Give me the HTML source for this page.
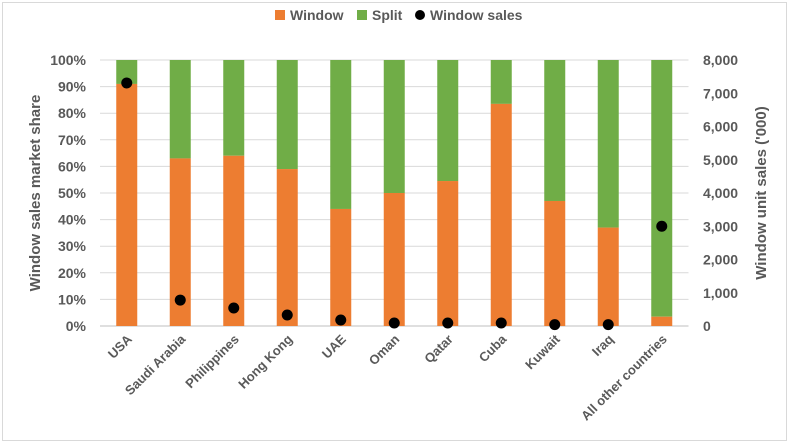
<!DOCTYPE html>
<html><head><meta charset="utf-8"><style>
body{margin:0;background:#fff;font-family:"Liberation Sans",sans-serif}
svg text{font-family:"Liberation Sans",sans-serif;fill:#595959}
</style></head><body>
<svg width="789" height="443">
<rect x="2.5" y="2.5" width="784" height="438" fill="#fff" stroke="#d9d9d9"/>
<g id="grid"></g><g id="bars"></g><g id="dots"></g><g id="axes"></g>
<g>
<rect x="275" y="10" width="10" height="10" fill="#ed7d31"/>
<text x="290" y="20" font-size="14" font-weight="bold">Window</text>
<rect x="357" y="10" width="10" height="10" fill="#70ad47"/>
<text x="372" y="20" font-size="14" font-weight="bold">Split</text>
<circle cx="420" cy="15" r="5" fill="#000"/>
<text x="430" y="20" font-size="14" font-weight="bold">Window sales</text>
</g>
<text transform="translate(40,193) rotate(-90)" text-anchor="middle" font-size="15" font-weight="bold">Window sales market share</text>
<text transform="translate(766,193) rotate(-90)" text-anchor="middle" font-size="15" font-weight="bold">Window unit sales ('000)</text>
</svg>
<script>
const categories=["USA","Saudi Arabia","Philippines","Hong Kong","UAE","Oman","Qatar","Cuba","Kuwait","Iraq","All other countries"];
const windowShare=[91,63,64,59,44,50,54.5,83.5,47,37,3.5];
const windowSales=[7310,780,540,330,180,90,90,90,40,40,3000];
const leftTicks=["0%","10%","20%","30%","40%","50%","60%","70%","80%","90%","100%"];
const rightTicks=["0","1,000","2,000","3,000","4,000","5,000","6,000","7,000","8,000"];
const NS="http://www.w3.org/2000/svg";
const L=100,R=688.5,T=60,B=326,step=(R-L)/categories.length;
const yL=v=>B-(v/100)*(B-T), yR=v=>B-(v/8000)*(B-T), xC=i=>L+step*(i+.5);
function mk(tag,attrs,parent,txt){const e=document.createElementNS(NS,tag);for(const k in attrs)e.setAttribute(k,attrs[k]);if(txt!=null)e.textContent=txt;document.getElementById(parent).appendChild(e);return e;}
leftTicks.forEach((t,i)=>{const y=yL(i*10);
 const g=mk('line',{x1:L,x2:R,y1:y,y2:y,stroke:i==0?'#bfbfbf':'#d9d9d9'},'grid');
 
 
 const tx=mk('text',{x:86,y:y+5,'text-anchor':'end','font-size':14,'font-weight':'bold'},'axes',t);
 
 });
rightTicks.forEach((t,i)=>{const y=yR(i*1000);
 const tx=mk('text',{x:703,y:y+5,'font-size':14,'font-weight':'bold'},'axes',t);
 
 });
categories.forEach((c,i)=>{const x=xC(i),w=21;
 const s=mk('rect',{x:x-w/2,y:T,width:w,height:yL(windowShare[i])-T,fill:'#70ad47'},'bars');
 
 
 const b=mk('rect',{x:x-w/2,y:yL(windowShare[i]),width:w,height:B-yL(windowShare[i]),fill:'#ed7d31'},'bars');
 
 
 const d=mk('circle',{cx:x,cy:yR(windowSales[i]),r:5.5,fill:'#000'},'dots');
 
 
 const tx=mk('text',{transform:`translate(${x+6},${B+14}) rotate(-45)`,'text-anchor':'end','font-size':13,'font-weight':'bold'},'axes',c);
 
 });
</script>
</body></html>
